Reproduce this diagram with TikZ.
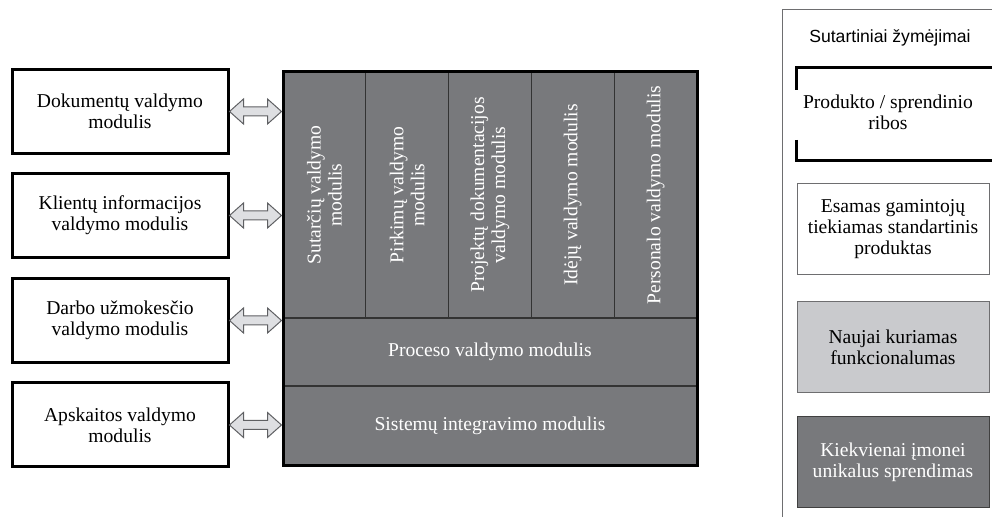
\documentclass[tikz,border=0pt]{standalone}
\usepackage{fontspec}
\setmainfont{Liberation Serif}
\setsansfont{Liberation Sans}
\usetikzlibrary{calc}
\definecolor{coregray}{RGB}{120,121,124}
\definecolor{newgray}{RGB}{201,202,205}
\definecolor{arrowfill}{RGB}{222,223,226}
\definecolor{arrowline}{RGB}{95,96,99}
\definecolor{legline}{RGB}{110,110,112}
\tikzset{
  txt/.style={font=\fontsize{9.8}{10.5}\selectfont, align=center, inner sep=1pt},
  modbox/.style={txt, draw, line width=1.5pt, fill=white, minimum width=108pt, minimum height=42pt},
  colbox/.style={txt, rotate=90, draw=black!80, line width=0.6pt, fill=coregray, text=white,
    minimum width=123pt, minimum height=41.4pt},
  rowbox/.style={txt, draw=black!80, line width=0.6pt, fill=coregray, text=white, minimum width=207pt},
  legbox/.style={txt, draw=legline, line width=0.5pt, minimum width=96pt, minimum height=45.5pt},
  linkarr/.style={fill=arrowfill, draw=arrowline, line width=0.5pt}
}
% block arrow with two heads between a box and the core
\newcommand{\duoarrow}[2]{%
  \draw[linkarr] let \p1=(#1.east), \p2=(#1.east -| #2.west) in
    (\p1) -- ++(7pt,6.25pt) -- ++(0pt,-4pt) -- (\x2-7pt,\y1+2.25pt) -- ++(0pt,4pt) -- (\p2)
    -- ++(-7pt,-6.25pt) -- ++(0pt,4pt) -- (\x1+7pt,\y1-2.25pt) -- ++(0pt,-4pt) -- cycle;}
\begin{document}
\begin{tikzpicture}[x=0.5pt, y=-0.5pt]
\useasboundingbox (0,0) rectangle (992,517);
% outer modules
\node[modbox] (dok) at (120,111.5) {Dokumentų valdymo\\modulis};
\node[modbox] (kli) at (120,215.5) {Klientų informacijos\\valdymo modulis};
\node[modbox] (dar) at (120,320.5) {Darbo užmokesčio\\valdymo modulis};
\node[modbox] (aps) at (120,425) {Apskaitos valdymo\\modulis};
% core of the solution
\node[colbox] (sut) at (324.4,195) {Sutarčių valdymo\\modulis};
\node[colbox] (pir) at (407.2,195) {Pirkimų valdymo\\modulis};
\node[colbox] (prj) at (490,195) {Projektų dokumentacijos\\valdymo modulis};
\node[colbox] (ide) at (572.8,195) {Idėjų valdymo modulis};
\node[colbox] (per) at (655.6,195) {Personalo valdymo modulis};
\node[rowbox, minimum height=34pt] (pro) at (490,352) {Proceso valdymo modulis};
\node[rowbox, minimum height=40pt] (int) at (490,426) {Sistemų integravimo modulis};
\node[draw, line width=1.5pt, minimum width=207pt, minimum height=197pt] (core) at (490,269) {};
\duoarrow{dok}{core}
\duoarrow{kli}{core}
\duoarrow{dar}{core}
\duoarrow{aps}{core}
% legend
\draw[legline, line width=0.5pt] (782,517) -- (782,10) -- (992,10);
\node[font=\sffamily\fontsize{8.8}{10}\selectfont] (legt) at (890,38) {Sutartiniai žymėjimai};
\node[txt] (leg1) at (888,112) {Produkto / sprendinio\\ribos};
\draw[line width=1.5pt] (796,90) -- (796,68) -- (992,68);
\draw[line width=1.5pt] (796,140) -- (796,161) -- (992,161);
\node[legbox, fill=white] (leg2) at (893,229) {Esamas gamintojų\\tiekiamas standartinis\\produktas};
\node[legbox, fill=newgray] (leg3) at (893,347) {Naujai kuriamas\\funkcionalumas};
\node[legbox, fill=coregray, draw=black!75, text=white] (leg4) at (893,462) {Kiekvienai įmonei\\unikalus sprendimas};
\end{tikzpicture}
\end{document}
